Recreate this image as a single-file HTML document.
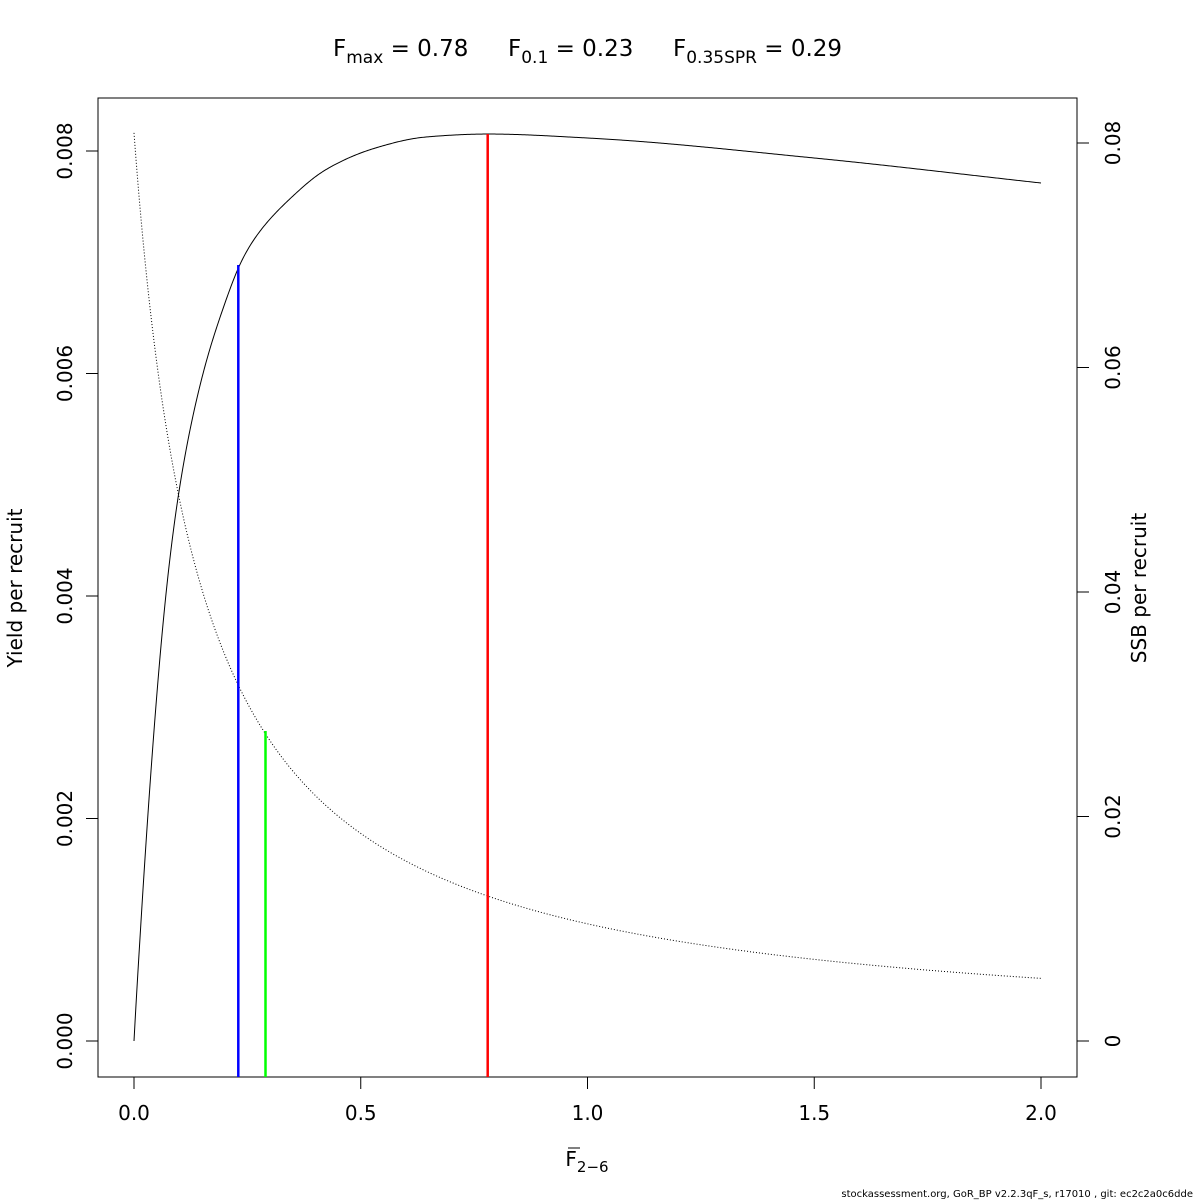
<!DOCTYPE html>
<html><head><meta charset="utf-8"><style>html,body{margin:0;background:#fff}svg{display:block}text{font-family:"DejaVu Sans","Liberation Sans",sans-serif}</style></head>
<body>
<svg id="s" width="1200" height="1200" xmlns="http://www.w3.org/2000/svg">
<rect x="98" y="98" width="979" height="979" fill="none" stroke="#000" stroke-width="1"/>
<g stroke="#000" stroke-width="1">
<line x1="134" y1="1077" x2="134" y2="1089"/><line x1="360.75" y1="1077" x2="360.75" y2="1089"/><line x1="587.5" y1="1077" x2="587.5" y2="1089"/><line x1="814.25" y1="1077" x2="814.25" y2="1089"/><line x1="1041" y1="1077" x2="1041" y2="1089"/>
<line x1="86" y1="1041" x2="98" y2="1041"/><line x1="86" y1="818.5" x2="98" y2="818.5"/><line x1="86" y1="596" x2="98" y2="596"/><line x1="86" y1="373.5" x2="98" y2="373.5"/><line x1="86" y1="151" x2="98" y2="151"/>
<line x1="1077" y1="1041" x2="1089" y2="1041"/><line x1="1077" y1="816.5" x2="1089" y2="816.5"/><line x1="1077" y1="592" x2="1089" y2="592"/><line x1="1077" y1="367.5" x2="1089" y2="367.5"/><line x1="1077" y1="143" x2="1089" y2="143"/>
</g>
<g font-size="20" text-anchor="middle">
<text x="134" y="1120">0.0</text><text x="360.75" y="1120">0.5</text><text x="587.5" y="1120">1.0</text><text x="814.25" y="1120">1.5</text><text x="1041" y="1120">2.0</text>
<text transform="translate(72,1041) rotate(-90)">0.000</text><text transform="translate(72,818.5) rotate(-90)">0.002</text><text transform="translate(72,596) rotate(-90)">0.004</text><text transform="translate(72,373.5) rotate(-90)">0.006</text><text transform="translate(72,151) rotate(-90)">0.008</text>
<text transform="translate(1120,1041) rotate(-90)">0</text><text transform="translate(1120,816.5) rotate(-90)">0.02</text><text transform="translate(1120,592) rotate(-90)">0.04</text><text transform="translate(1120,367.5) rotate(-90)">0.06</text><text transform="translate(1120,143) rotate(-90)">0.08</text>
<text transform="translate(22,588) rotate(-90)">Yield per recruit</text>
<text transform="translate(1146,588) rotate(-90)">SSB per recruit</text>
<text x="587" y="1166">F<tspan font-size="15" dy="6">2−6</tspan></text>
</g>
<line x1="568" y1="1148" x2="580" y2="1148" stroke="#000" stroke-width="1"/>
<g font-size="23">
<text x="333" y="56">F<tspan font-size="17" dy="7">max</tspan><tspan dy="-7"> = 0.78</tspan></text>
<text x="508" y="56">F<tspan font-size="17" dy="7">0.1</tspan><tspan dy="-7"> = 0.23</tspan></text>
<text x="673" y="56">F<tspan font-size="17" dy="7">0.35SPR</tspan><tspan dy="-7"> = 0.29</tspan></text>
</g>
<text x="1193" y="1197" font-size="10" text-anchor="end">stockassessment.org, GoR_BP  v2.2.3qF_s, r17010 , git: ec2c2a0c6dde</text>
<path id="y" fill="none" stroke="#000" stroke-width="1"/>
<path id="p" fill="none" stroke="#000" stroke-width="1" stroke-dasharray="1,2"/>
<line x1="238.3" y1="265" x2="238.3" y2="1077" stroke="#00f" stroke-width="2.5"/>
<line x1="265.5" y1="731" x2="265.5" y2="1077" stroke="#0f0" stroke-width="2.5"/>
<line x1="487.7" y1="134" x2="487.7" y2="1077" stroke="#f00" stroke-width="2.5"/>
</svg>
<script>
const P=[[0,1041],[0.017,902],[0.0353,781.6],[0.0538,669],[0.0721,580.7],[0.0977,492],[0.1272,420],[0.1638,353],[0.2006,303],[0.2315,265],[0.274,233],[0.348,197],[0.421,170],[0.532,148],[0.642,137],[0.78,134],[1.0,138],[1.5,158],[2.0,183]];
const n=P.length,d=[],m=[];
for(let i=0;i<n-1;i++)d.push((P[i+1][1]-P[i][1])/(P[i+1][0]-P[i][0]));
m[0]=d[0];m[n-1]=d[n-2];
for(let i=1;i<n-1;i++){if(d[i-1]*d[i]<=0)m[i]=0;else{const h0=P[i][0]-P[i-1][0],h1=P[i+1][0]-P[i][0];const w1=2*h1+h0,w2=h1+2*h0;m[i]=(w1+w2)/(w1/d[i-1]+w2/d[i]);}}
function Y(F){let i=0;while(i<n-2&&F>P[i+1][0])i++;const h=P[i+1][0]-P[i][0],t=(F-P[i][0])/h;const t2=t*t,t3=t2*t;
return (2*t3-3*t2+1)*P[i][1]+(t3-2*t2+t)*h*m[i]+(-2*t3+3*t2)*P[i+1][1]+(t3-t2)*h*m[i+1];}
const N=907;let ys=[];for(let i=0;i<=N;i++)ys.push(Y(i/453.5));
for(let pass=0;pass<3;pass++){const o=ys.slice();for(let i=1;i<N;i++){const w=Math.min(6,i,N-i);let s=0;for(let k=-w;k<=w;k++)s+=o[i+k];ys[i]=s/(2*w+1);}}
let dy="",dp="";
for(let i=0;i<=N;i++){const F=i/453.5;const S=0.0809/(1+6.75*F);const x=134+i;
dy+=(i?"L":"M")+x+","+ys[i].toFixed(2);dp+=(i?"L":"M")+x+","+(1041-S*11225).toFixed(2);}
document.getElementById("y").setAttribute("d",dy);document.getElementById("p").setAttribute("d",dp);
</script>
</body></html>
